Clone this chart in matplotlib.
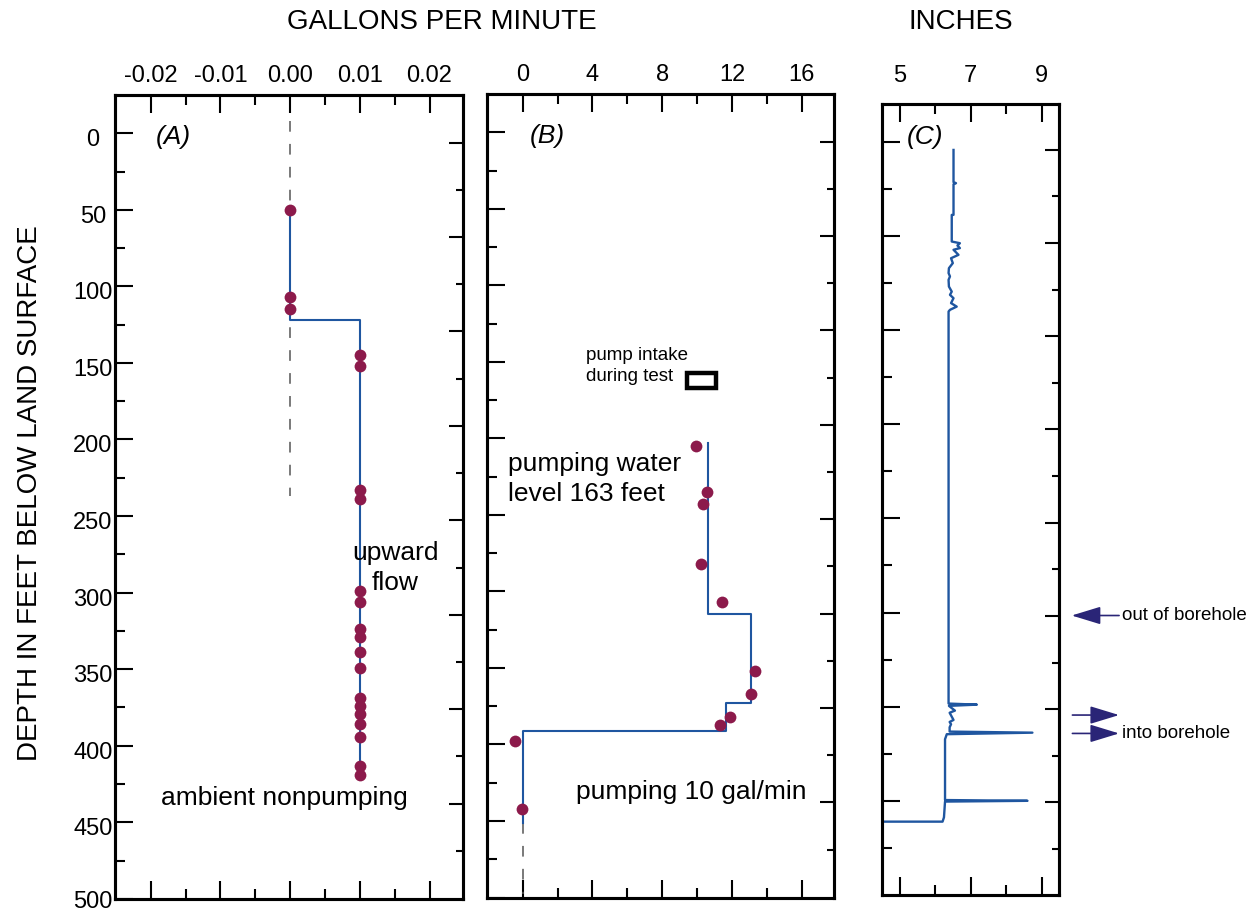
import matplotlib
matplotlib.use("Agg")
import matplotlib.pyplot as plt
import matplotlib.transforms as mtransforms
from matplotlib.patches import Rectangle

plt.rcParams['font.family'] = ['Liberation Sans', 'DejaVu Sans']

# ---- data ----
# (A) ambient nonpumping flowmeter measurements
a_gpm = [0.0, 0.0, 0.0] + [0.01] * 17
a_depth = [50, 107, 115, 145, 152, 233, 239, 299, 306, 324, 329, 339, 349,
           369, 374, 379, 386, 394, 413, 419]
a_profile_gpm = [0.0, 0.0, 0.01, 0.01]
a_profile_depth = [50, 122, 122, 419]
a_zero_depth = [-8, 237]

# (B) pumping 10 gal/min
b_gpm = [9.94, 10.59, 10.32, 10.22, 11.45, 13.3, 13.07, 11.9, 11.31, -0.46, -0.06]
b_depth = [205, 235, 243, 282, 307, 352, 367, 382, 387, 398, 442]
b_profile_gpm = [10.6, 10.6, 13.07, 13.07, 11.64, 11.64, 0.0, 0.0]
b_profile_depth = [203, 315, 315, 373, 373, 391, 391, 451]
b_zero_depth = [451, 498]
pump_intake_gpm = [9.42, 11.08]
pump_intake_depth = [157, 167]

# (C) caliper log, inches
c_inches = [6.51, 6.51, 6.58, 6.51, 6.51, 6.46, 6.46, 6.69, 6.62, 6.69, 6.51,
            6.65, 6.44, 6.49, 6.38, 6.37, 6.41, 6.37, 6.38, 6.46, 6.41, 6.51,
            6.44, 6.60, 6.41, 6.37, 6.37, 7.17, 6.38, 6.55, 6.40, 6.51, 6.40,
            6.44, 6.40, 6.40, 8.74, 6.32, 6.27, 6.27, 8.60, 6.27, 6.24, 6.20,
            4.40]
c_depth = [11, 32, 32.7, 33.4, 53.4, 53.4, 70.8, 71.9, 73.4, 75.1, 76.2,
           79.5, 81.7, 84.9, 88.2, 91.4, 93.6, 95.8, 100.2, 103.5, 105.6, 107.8,
           111, 113.3, 115.4, 116.5, 372.5, 373.2, 374, 377.1, 378.5, 383.2, 384.5,
           386, 388, 390.8, 391.5, 392.5, 395.8, 435.5, 436, 436.5, 446.8, 449.6,
           449.6]
out_arrow_depth = [315]
in_arrow_depths = [380, 392]

a_xticks = [-0.02, -0.01, 0.00, 0.01, 0.02]
a_xticklabels = ["-0.02", "-0.01", "0.00", "0.01", "0.02"]
b_xticks = [0, 4, 8, 12, 16]
c_xticks = [5, 7, 9]
depth_ticks = list(range(0, 501, 50))

DOT = '#8c1a4b'
LINE = '#1f56a0'
ARROW = '#2a2577'

fig = plt.figure(figsize=(12.53, 9.13), dpi=100)
W, H = 1253.0, 913.0


def px_axes(left, top, right, bottom):
    return fig.add_axes([left / W, 1 - bottom / H, (right - left) / W, (bottom - top) / H])


axA = px_axes(114.5, 95, 463, 898.8)
axB = px_axes(486.7, 94, 834, 897.5)
axC = px_axes(881.7, 104, 1059.3, 895)


def style(ax, xlim, ylim, xmajor, xminor, ymajor, yminor, rt_major, rt_minor):
    ax.set_xlim(*xlim)
    ax.set_ylim(*ylim)
    for s in ax.spines.values():
        s.set_linewidth(2.2)
    ax.set_xticks(xmajor)
    ax.set_xticks(xminor, minor=True)
    ax.set_yticks(ymajor)
    ax.set_yticks(yminor, minor=True)
    ax.tick_params(which='both', direction='in', top=True, bottom=True,
                   left=True, right=False, labeltop=True, labelbottom=False,
                   width=1.5, labelsize=17, pad=6)
    ax.tick_params(which='major', length=13)
    ax.tick_params(which='minor', length=7)
    tw = ax.twinx()
    tw.set_ylim(*ylim)
    tw.set_yticks(rt_major)
    tw.set_yticks(rt_minor, minor=True)
    tw.tick_params(which='both', direction='in', width=1.5, labelright=False)
    tw.tick_params(which='major', length=10)
    tw.tick_params(which='minor', length=5)
    for s in tw.spines.values():
        s.set_linewidth(2.2)
    return tw


def offset_ticks(start, step, n=16):
    pos = [start + i * step for i in range(n)]
    return pos[::2], pos[1::2]


rt_major, rt_minor = offset_ticks(6.1, 30.84)

# ---- panel A ----
style(axA, (-0.0252, 0.0248), (500, -25), a_xticks,
      [-0.015, -0.005, 0.005, 0.015], depth_ticks,
      list(range(25, 500, 50)), rt_major, rt_minor)
axA.set_xticklabels(a_xticklabels)
axA.set_yticklabels([str(d) for d in depth_ticks])
axA.tick_params(axis='y', labelleft=True, pad=15.5, labelsize=17)
# labels sit a little below their ticks in the original; the last one less so
major_ticks = axA.yaxis.get_major_ticks()
for i, t in enumerate(major_ticks):
    dy = 4.5 if i < len(major_ticks) - 1 else 1.0
    shift = mtransforms.ScaledTranslation(0, -dy / 100, fig.dpi_scale_trans)
    t.label1.set_horizontalalignment('center')
    t.label1.set_transform(t.label1.get_transform() + shift)

axA.plot([0, 0], a_zero_depth, color='#555555', lw=1.1, ls=(0, (7, 8)))
axA.plot(a_profile_gpm, a_profile_depth, color=LINE, lw=1.5)
axA.plot(a_gpm, a_depth, 'o', color=DOT, ms=8.5, mec='none')
axA.text(-0.0193, 2.4, "(A)", fontsize=19, style='italic', va='center', ha='left')
axA.text(0.0151, 284, "upward\nflow", fontsize=19, ha='center', va='center',
         linespacing=1.3)
axA.text(-0.0186, 434, "ambient nonpumping", fontsize=19, ha='left', va='center')

# ---- panel B ----
style(axB, (-2.06, 17.85), (500, -25), b_xticks, [2, 6, 10, 14],
      depth_ticks, list(range(25, 500, 50)), rt_major, rt_minor)
axB.set_xticklabels([str(v) for v in b_xticks])
axB.tick_params(axis='y', labelleft=False)

axB.plot([0, 0], b_zero_depth, color='#555555', lw=1.1, ls=(0, (7, 8)))
axB.plot(b_profile_gpm, b_profile_depth, color=LINE, lw=1.5)
axB.plot(b_gpm, b_depth, 'o', color=DOT, ms=8.5, mec='none')
axB.add_patch(Rectangle((pump_intake_gpm[0], pump_intake_depth[0]),
                        pump_intake_gpm[1] - pump_intake_gpm[0],
                        pump_intake_depth[1] - pump_intake_depth[0],
                        fill=False, ec='black', lw=3.2))
axB.text(0.42, 2.4, "(B)", fontsize=19, style='italic', va='center', ha='left')
axB.text(3.63, 152.6, "pump intake\nduring test", fontsize=13.5, ha='left',
         va='center', linespacing=1.35)
axB.text(-0.84, 226.5, "pumping water\nlevel 163 feet", fontsize=19, ha='left',
         va='center', linespacing=1.3)
axB.text(3.06, 431, "pumping 10 gal/min", fontsize=19, ha='left', va='center')

# ---- panel C ----
cl_major, cl_minor = offset_ticks(5.5, 30.76)
cr_major, cr_minor = offset_ticks(10.9, 30.44)
style(axC, (4.48, 9.5), (497.5, -19), c_xticks, [6, 8],
      cl_major, cl_minor, cr_major, cr_minor)
axC.set_xticklabels([str(v) for v in c_xticks])
axC.tick_params(axis='x', pad=12.5)
axC.tick_params(axis='y', labelleft=False)
axC.plot(c_inches, c_depth, color=LINE, lw=1.7)
axC.text(5.2, 2.4, "(C)", fontsize=19, style='italic', va='center', ha='left')

arrow_kw = dict(arrowstyle='-|>,head_length=1.8,head_width=0.55',
                color=ARROW, lw=1.2, mutation_scale=10, shrinkA=0, shrinkB=0)
for d in out_arrow_depth:
    axC.annotate("", xy=(9.85, d), xytext=(11.19, d), xycoords='data',
                 annotation_clip=False, arrowprops=arrow_kw)
for d in in_arrow_depths:
    axC.annotate("", xy=(11.19, d), xytext=(9.87, d), xycoords='data',
                 annotation_clip=False, arrowprops=arrow_kw)
axC.text(11.26, out_arrow_depth[0], "out of borehole", fontsize=13.5,
         ha='left', va='center', clip_on=False)
axC.text(11.26, in_arrow_depths[-1], "into borehole", fontsize=13.5,
         ha='left', va='center', clip_on=False)

# ---- shared labels ----
fig.text(441.5 / W, 1 - 22 / H, "GALLONS PER MINUTE", fontsize=20,
         ha='center', va='center')
fig.text(961 / W, 1 - 22 / H, "INCHES", fontsize=20, ha='center', va='center')
fig.text(30 / W, 1 - 493 / H, "DEPTH IN FEET BELOW LAND SURFACE", fontsize=20,
         ha='center', va='center', rotation=90)

fig.savefig("out.png", dpi=100)
